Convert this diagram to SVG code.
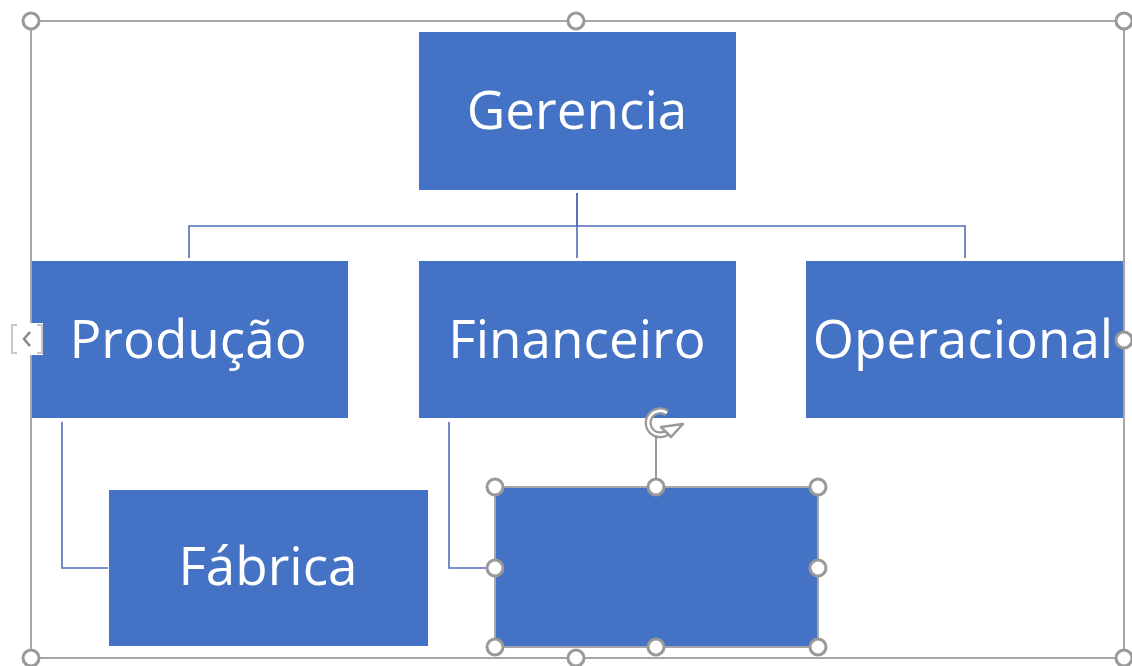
<svg xmlns="http://www.w3.org/2000/svg" width="1132" height="666" viewBox="0 0 1132 666">
<style>
.box{fill:#4472C4}
.lbl{fill:#fff;font-family:"Open Sans","Noto Sans",sans-serif;font-size:53px;text-anchor:middle}
.con{stroke:#4F6FB8;stroke-width:1.6;fill:none}
.frame{stroke:#A6A6A6;stroke-width:2;fill:none}
.h{fill:#fff;stroke:#999;stroke-width:3}
</style>
<rect width="1132" height="666" fill="#fff"/>
<g id="connectors">
<path class="con" d="M577 193V258M189 258V226H965V258"/>
<path class="con" stroke-width="2.4" d="M577 193V226"/>
<path class="con" d="M62 422V568H108"/>
<path class="con" d="M449 422V568H495"/>
</g>
<g id="gerencia"><rect class="box" x="419" y="32" width="317" height="158"/><text class="lbl" x="577" y="129">Gerencia</text></g>
<g id="producao"><rect class="box" x="31" y="261" width="317" height="157"/><text class="lbl" x="188" y="358">Produção</text></g>
<g id="financeiro"><rect class="box" x="419" y="261" width="317" height="157"/><text class="lbl" x="577" y="358">Financeiro</text></g>
<g id="operacional"><rect class="box" x="806" y="261" width="318" height="157"/><text class="lbl" x="963" y="358">Operacional</text></g>
<g id="fabrica"><rect class="box" x="109" y="490" width="319" height="156"/><text class="lbl" x="268" y="585">Fábrica</text></g>
<g id="selected">
<rect class="box" x="495" y="487" width="323" height="160" stroke="#A6A6A6" stroke-width="2"/>
<line x1="656" y1="436" x2="656" y2="487" stroke="#999" stroke-width="2"/>
<path d="M667 413A12 12 0 1 0 669 431" fill="none" stroke="#999" stroke-width="7"/>
<path d="M667 413A12 12 0 1 0 669 431" fill="none" stroke="#fff" stroke-width="2.5"/>
<path d="M661 427L683 424L671 437Z" fill="#fff" stroke="#999" stroke-width="2.5" stroke-linejoin="round"/>
<circle class="h" cx="495" cy="487" r="8"/><circle class="h" cx="656" cy="487" r="8"/><circle class="h" cx="818" cy="487" r="8"/>
<circle class="h" cx="495" cy="568" r="8"/><circle class="h" cx="818" cy="568" r="8"/>
<circle class="h" cx="495" cy="647" r="8"/><circle class="h" cx="656" cy="647" r="8"/><circle class="h" cx="818" cy="647" r="8"/>
</g>
<g id="frame">
<rect class="frame" x="31" y="21" width="1093" height="637"/>
<circle class="h" cx="31" cy="21" r="8"/><circle class="h" cx="576" cy="21" r="8"/><circle class="h" cx="1124" cy="21" r="8"/>
<circle class="h" cx="1124" cy="340" r="8"/>
<circle class="h" cx="31" cy="658" r="8"/><circle class="h" cx="576" cy="658" r="8"/><circle class="h" cx="1124" cy="658" r="8"/>
<rect x="10" y="323" width="33" height="32" fill="#fff"/>
<path d="M17 325H12V353H17M37 325H42V353H37" fill="none" stroke="#C8C8C8" stroke-width="2"/>
<path d="M30 332L24 339L30 346" fill="none" stroke="#888" stroke-width="2.5"/>
</g>
</svg>
